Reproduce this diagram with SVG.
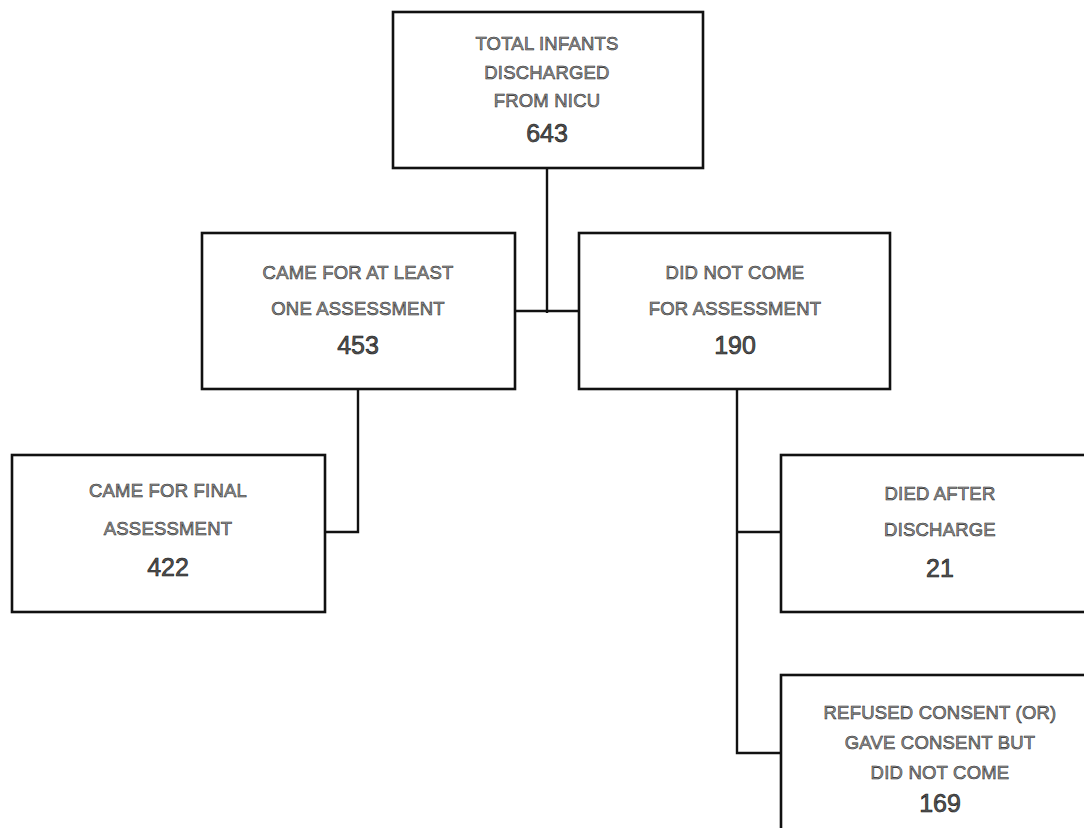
<svg xmlns="http://www.w3.org/2000/svg" width="1084" height="828" viewBox="0 0 1084 828">
<style>
.box{fill:#fff;stroke:#111;stroke-width:2.6}
.ln{fill:none;stroke:#111;stroke-width:2.4}
.t{font-family:"Liberation Sans",Arial,sans-serif;font-size:18.5px;fill:#999;stroke:#222;stroke-width:0.55;text-anchor:middle;letter-spacing:0.2px}
.n{font-family:"Liberation Sans",Arial,sans-serif;font-size:25px;fill:#555;stroke:#111;stroke-width:0.6;text-anchor:middle}
</style>
<rect width="1084" height="828" fill="#fff"/>
<g id="connectors">
<path class="ln" d="M547 168 V313"/>
<path class="ln" d="M515 311 H579"/>
<path class="ln" d="M358 389 V532 H325"/>
<path class="ln" d="M737 389 V753 H781"/>
<path class="ln" d="M737 532 H781"/>
</g>
<g id="total">
<rect class="box" x="393" y="12" width="310" height="156"/>
<text class="t" x="547" y="50">TOTAL INFANTS</text>
<text class="t" x="547" y="79">DISCHARGED</text>
<text class="t" x="547" y="107">FROM NICU</text>
<text class="n" x="547" y="142">643</text>
</g>
<g id="came">
<rect class="box" x="202" y="233" width="313" height="156"/>
<text class="t" x="358" y="279">CAME FOR AT LEAST</text>
<text class="t" x="358" y="315">ONE ASSESSMENT</text>
<text class="n" x="358" y="354">453</text>
</g>
<g id="notcome">
<rect class="box" x="579" y="233" width="311" height="156"/>
<text class="t" x="735" y="279">DID NOT COME</text>
<text class="t" x="735" y="315">FOR ASSESSMENT</text>
<text class="n" x="735" y="354">190</text>
</g>
<g id="final">
<rect class="box" x="12" y="455" width="313" height="157"/>
<text class="t" x="168" y="497">CAME FOR FINAL</text>
<text class="t" x="168" y="535">ASSESSMENT</text>
<text class="n" x="168" y="576">422</text>
</g>
<g id="died">
<rect class="box" x="781" y="455" width="320" height="157"/>
<text class="t" x="940" y="500">DIED AFTER</text>
<text class="t" x="940" y="536">DISCHARGE</text>
<text class="n" x="940" y="577">21</text>
</g>
<g id="refused">
<rect class="box" x="781" y="675" width="320" height="170"/>
<text class="t" x="940" y="719">REFUSED CONSENT (OR)</text>
<text class="t" x="940" y="749">GAVE CONSENT BUT</text>
<text class="t" x="940" y="779">DID NOT COME</text>
<text class="n" x="940" y="812">169</text>
</g>
</svg>
